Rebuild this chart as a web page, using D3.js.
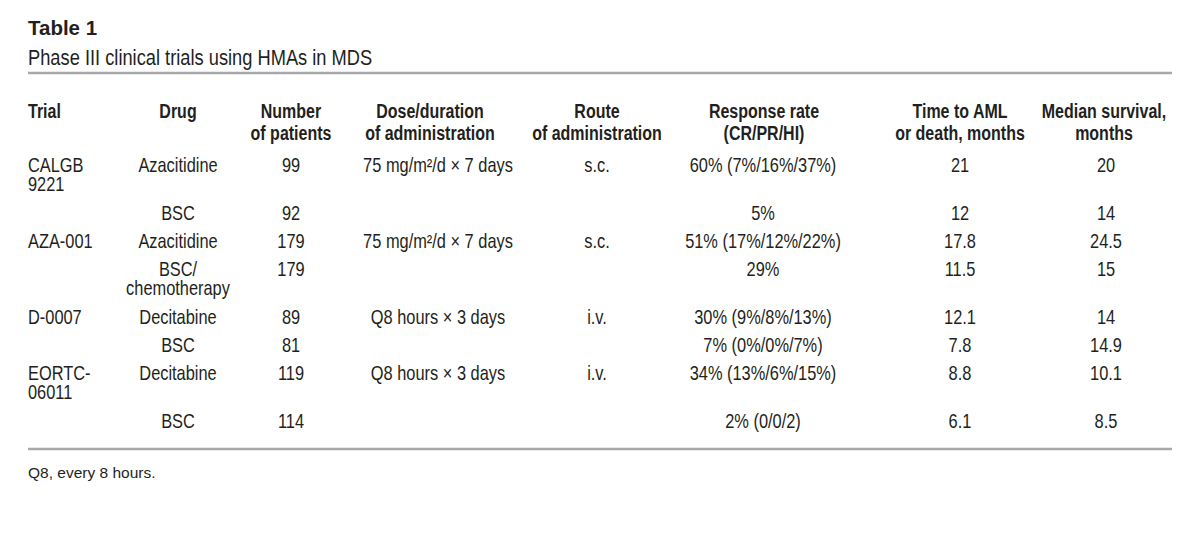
<!DOCTYPE html>
<html>
<head>
<meta charset="utf-8">
<script src="https://cdn.jsdelivr.net/npm/d3@7"></script>
<style>
  body { margin: 0; background: #fff; }
  text { fill: #231f20; }
</style>
</head>
<body>
<div id="table"></div>
<script>
// table contents, one array per column
var trials = ["CALGB\n9221", "", "AZA-001", "", "D-0007", "", "EORTC-\n06011", ""];
var drugs = ["Azacitidine", "BSC", "Azacitidine", "BSC/\nchemotherapy", "Decitabine", "BSC", "Decitabine", "BSC"];
var patients = ["99", "92", "179", "179", "89", "81", "119", "114"];
var doses = ["75 mg/m²/d × 7 days", "", "75 mg/m²/d × 7 days", "", "Q8 hours × 3 days", "", "Q8 hours × 3 days", ""];
var routes = ["s.c.", "", "s.c.", "", "i.v.", "", "i.v.", ""];
var responses = ["60% (7%/16%/37%)", "5%", "51% (17%/12%/22%)", "29%", "30% (9%/8%/13%)", "7% (0%/0%/7%)", "34% (13%/6%/15%)", "2% (0/0/2)"];
var timeToAml = ["21", "12", "17.8", "11.5", "12.1", "7.8", "8.8", "6.1"];
var survival = ["20", "14", "24.5", "15", "14", "14.9", "10.1", "8.5"];

var columnKeys = ["trial", "drug", "patients", "dose", "route", "response", "aml", "survival"];
var headers = ["Trial", "Drug", "Number\nof patients", "Dose/duration\nof administration", "Route\nof administration",
  "Response rate\n(CR/PR/HI)", "Time to AML\nor death, months", "Median survival,\nmonths"];

var title = "Table 1";
var subtitle = "Phase III clinical trials using HMAs in MDS";
var footnote = "Q8, every 8 hours.";

var width = 1200, height = 552;
var left = 28, right = 1172;
var sans = "'Liberation Sans', Arial, Helvetica, sans-serif";
// no condensed face installed, so squeeze the regular one horizontally
var squeeze = 0.82;

var svg = d3.select("#table")
    .append("svg")
    .attr("width", width)
    .attr("height", height);

// column positions (headers sit a little off the body centres in places)
var x = d3.scaleOrdinal()
    .domain(columnKeys)
    .range([left, 178, 291, 438, 597, 763, 960, 1106]);
var xHead = d3.scaleOrdinal()
    .domain(columnKeys)
    .range([left, 178, 291, 430, 597, 764, 960, 1104]);

var columns = [trials, drugs, patients, doses, routes, responses, timeToAml, survival];
var rows = d3.range(trials.length).map(function(i) {
  return columns.map(function(c) { return c[i]; });
});

// row baselines: each row takes one unit, each extra wrapped line adds more
var lineCount = rows.map(function(r) {
  return d3.max(r, function(v) { return v.split("\n").length; });
});
var offsets = [];
var acc = 0;
lineCount.forEach(function(n, i) { offsets.push(i * 28 + acc * 20); acc += n - 1; });
var y = d3.scaleLinear().domain([0, 100]).range([172, 272]);

function cell(sel, cx, cy, d, anchor, lead) {
  var t = sel.append("text")
      .attr("transform", "translate(" + cx + "," + cy + ") scale(" + squeeze + ",1)")
      .attr("text-anchor", anchor);
  d.split("\n").forEach(function(line, j) {
    t.append("tspan")
        .attr("x", 0)
        .attr("y", j * lead)
        .text(line);
  });
  return t;
}

// title
svg.append("text")
    .attr("x", left).attr("y", 35)
    .attr("font-family", sans)
    .attr("font-weight", "bold")
    .attr("font-size", 20.5)
    .text(title);

svg.append("text")
    .attr("transform", "translate(" + left + ",65) scale(" + squeeze + ",1)")
    .attr("font-family", sans)
    .attr("font-size", 22.3)
    .text(subtitle);

svg.append("line")
    .attr("x1", left).attr("x2", right)
    .attr("y1", 73).attr("y2", 73)
    .attr("stroke", "#a7a9ac")
    .attr("stroke-width", 2.5);

// header cells
var head = svg.append("g")
    .attr("font-family", sans)
    .attr("font-weight", "bold")
    .attr("font-size", 19.5);

headers.forEach(function(d, i) {
  cell(head, xHead(columnKeys[i]), 118, d, i === 0 ? "start" : "middle", 22);
});

// body cells
var body = svg.append("g")
    .attr("font-family", sans)
    .attr("font-size", 20);

rows.forEach(function(r, i) {
  r.forEach(function(d, k) {
    if (d === "") return;
    cell(body, x(columnKeys[k]), y(offsets[i]), d, k === 0 ? "start" : "middle", 19);
  });
});

svg.append("line")
    .attr("x1", left).attr("x2", right)
    .attr("y1", 449).attr("y2", 449)
    .attr("stroke", "#a7a9ac")
    .attr("stroke-width", 2.5);

svg.append("text")
    .attr("x", left).attr("y", 478)
    .attr("font-family", sans)
    .attr("font-size", 15.5)
    .text(footnote);
</script>
</body>
</html>
